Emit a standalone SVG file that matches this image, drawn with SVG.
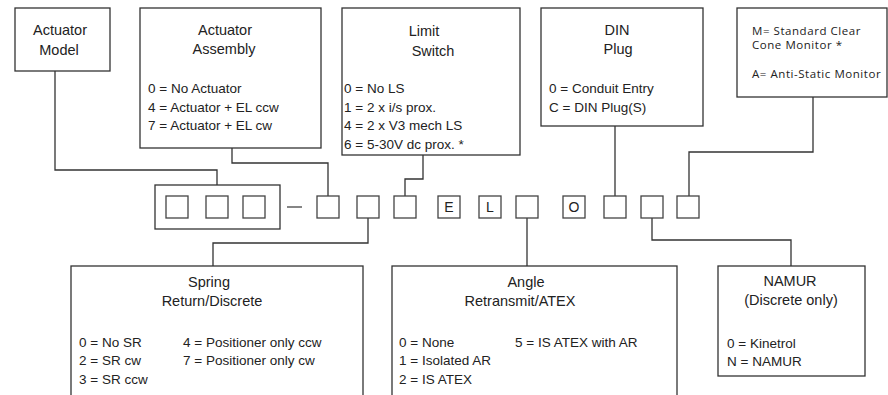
<svg xmlns="http://www.w3.org/2000/svg" width="888" height="395" viewBox="0 0 888 395">
<style>
rect.box{fill:#fff;stroke:#333;stroke-width:1.3}
rect.sq{fill:#fff;stroke:#444;stroke-width:1.3}
.conn path{fill:none;stroke:#333;stroke-width:1.3}
text{font-family:"Liberation Sans",Arial,sans-serif;fill:#222}
.t{font-size:14.5px;text-anchor:middle}
.i{font-size:13.5px}
.m{font-family:"Open Sans","Noto Sans",sans-serif;font-size:11.5px;letter-spacing:0.55px}
.c{font-size:14px;text-anchor:middle}
</style>
<rect width="888" height="395" fill="#fff"/>
<g class="conn" id="connectors">
<path d="M55,71 V170 H217 V185"/>
<path d="M232,148 V163 H328 V196"/>
<path d="M423,155 V179 H405 V196"/>
<path d="M615,126 V196"/>
<path d="M813,97 V152 H689 V196"/>
<path d="M368,218 V243 H213 V266"/>
<path d="M527,218 V266"/>
<path d="M652,218 V240 H791 V266"/>
</g>
<g id="actuator-model">
<rect class="box" x="15" y="8" width="95" height="63"/>
<text class="t" x="60" y="35">Actuator</text>
<text class="t" x="59" y="55">Model</text>
</g>
<g id="actuator-assembly">
<rect class="box" x="140" y="8" width="181" height="140"/>
<text class="t" x="225" y="35">Actuator</text>
<text class="t" x="224" y="54">Assembly</text>
<text class="i" x="148" y="93">0 = No Actuator</text>
<text class="i" x="148" y="112">4 = Actuator + EL ccw</text>
<text class="i" x="148" y="130">7 = Actuator + EL cw</text>
</g>
<g id="limit-switch">
<rect class="box" x="342" y="8" width="178" height="147"/>
<text class="t" x="424" y="36">Limit</text>
<text class="t" x="433" y="56">Switch</text>
<text class="i" x="344" y="93">0 = No LS</text>
<text class="i" x="344" y="112">1 = 2 x i/s prox.</text>
<text class="i" x="344" y="130">4 = 2 x V3 mech LS</text>
<text class="i" x="344" y="149">6 = 5-30V dc prox. *</text>
</g>
<g id="din-plug">
<rect class="box" x="541" y="8" width="162" height="118"/>
<text class="t" x="617" y="35">DIN</text>
<text class="t" x="618" y="54">Plug</text>
<text class="i" x="549" y="93">0 = Conduit Entry</text>
<text class="i" x="549" y="112">C = DIN Plug(S)</text>
</g>
<g id="monitor">
<rect class="box" x="737" y="8" width="150" height="89"/>
<text class="m" x="752" y="34.5">M= Standard Clear</text>
<text class="m" x="752" y="49">Cone Monitor *</text>
<text class="m" x="752" y="78">A= Anti-Static Monitor</text>
</g>
<g id="code">
<rect class="box" x="155" y="185" width="125" height="44"/>
<rect class="sq" x="166" y="196" width="22" height="22"/>
<rect class="sq" x="206" y="196" width="22" height="22"/>
<rect class="sq" x="243" y="196" width="22" height="22"/>
<line x1="287" y1="207" x2="302" y2="207" stroke="#444" stroke-width="1.3"/>
<rect class="sq" x="317" y="196" width="22" height="22"/>
<rect class="sq" x="357" y="196" width="22" height="22"/>
<rect class="sq" x="394" y="196" width="22" height="22"/>
<rect class="sq" x="438" y="196" width="22" height="22"/>
<text class="c" x="449" y="212">E</text>
<rect class="sq" x="479" y="196" width="22" height="22"/>
<text class="c" x="490" y="212">L</text>
<rect class="sq" x="516" y="196" width="22" height="22"/>
<rect class="sq" x="563" y="196" width="22" height="22"/>
<text class="c" x="574" y="212">O</text>
<rect class="sq" x="604" y="196" width="22" height="22"/>
<rect class="sq" x="641" y="196" width="22" height="22"/>
<rect class="sq" x="677" y="196" width="22" height="22"/>
</g>
<g id="spring-return">
<rect class="box" x="71" y="266" width="292" height="140"/>
<text class="t" x="209" y="287">Spring</text>
<text class="t" x="212" y="306">Return/Discrete</text>
<text class="i" x="79" y="347">0 = No SR</text>
<text class="i" x="79" y="365">2 = SR cw</text>
<text class="i" x="79" y="384">3 = SR ccw</text>
<text class="i" x="183" y="347">4 = Positioner only ccw</text>
<text class="i" x="183" y="365">7 = Positioner only cw</text>
</g>
<g id="angle-retransmit">
<rect class="box" x="392" y="266" width="285" height="140"/>
<text class="t" x="526" y="287">Angle</text>
<text class="t" x="520" y="306">Retransmit/ATEX</text>
<text class="i" x="399" y="347">0 = None</text>
<text class="i" x="399" y="365">1 = Isolated AR</text>
<text class="i" x="399" y="384">2 = IS ATEX</text>
<text class="i" x="515" y="347">5 = IS ATEX with AR</text>
</g>
<g id="namur">
<rect class="box" x="718" y="266" width="147" height="110"/>
<text class="t" x="790" y="286">NAMUR</text>
<text class="t" x="791" y="305">(Discrete only)</text>
<text class="i" x="727" y="348">0 = Kinetrol</text>
<text class="i" x="727" y="366">N = NAMUR</text>
</g>
</svg>
